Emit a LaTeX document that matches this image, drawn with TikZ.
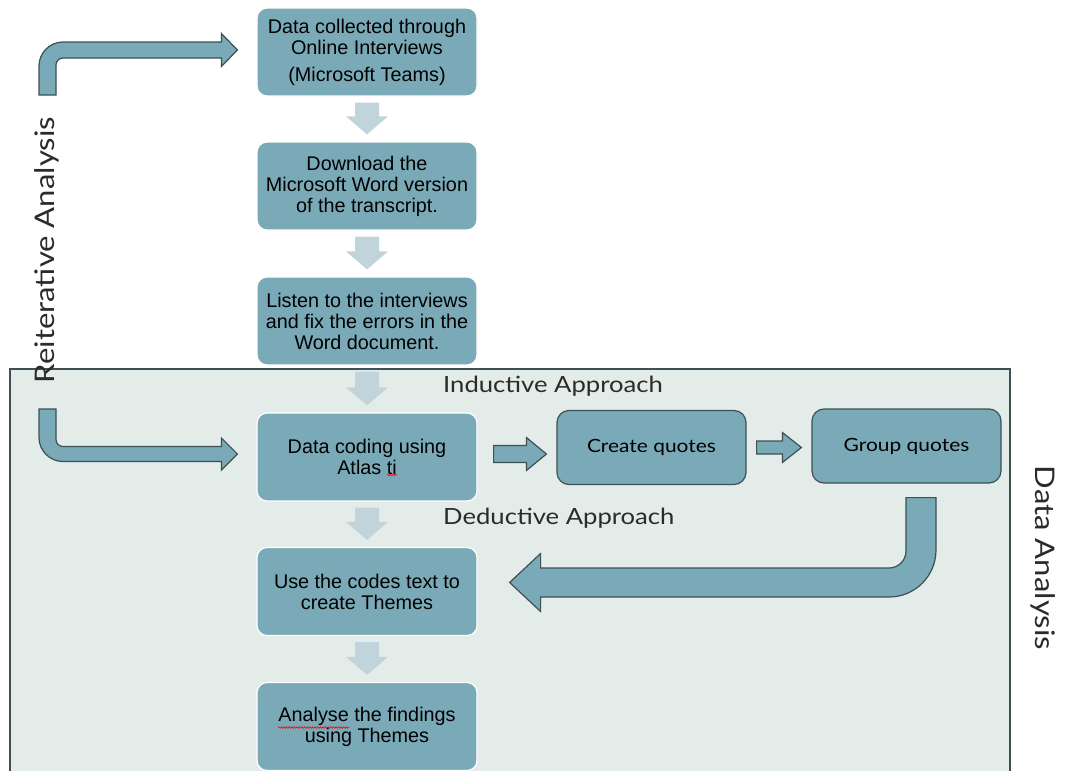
\documentclass[tikz,border=0pt]{standalone}
\usepackage{fontspec}
\setmainfont{Liberation Sans}
\newfontfamily\softsans{Lato}[FakeStretch=1.15]
\usetikzlibrary{calc,decorations.pathmorphing}

\definecolor{boxblue}{HTML}{7AAAB8}
\definecolor{flowgrey}{HTML}{C2D4DB}
\definecolor{panel}{HTML}{E3ECE9}
\definecolor{edge}{HTML}{3C5056}
\definecolor{labelgrey}{HTML}{2B2B2B}

% light block arrow between two stacked steps
\newcommand\downblock[2]{%
  \fill[flowarrow] ($(#1.south)+(-12,6)$) -- ($(#1.south)+(12,6)$)
    -- ($(#2.north)+(12,-25)$) -- ($(#2.north)+(21,-25)$) -- ($(#2.north)+(0,-7)$)
    -- ($(#2.north)+(-21,-25)$) -- ($(#2.north)+(-12,-25)$) -- cycle;}

\tikzset{
  stepbox/.style={rectangle, rounded corners=10pt, fill=boxblue, draw=white,
    line width=1.2pt, minimum width=220pt, minimum height=88pt, align=center,
    font=\fontsize{19.8}{21}\selectfont, inner sep=2pt},
  quotebox/.style={rectangle, rounded corners=12pt, fill=boxblue, draw=edge,
    line width=1.2pt, minimum width=189pt, minimum height=74pt,
    font=\softsans\fontsize{18.2}{22}\selectfont},
  flowarrow/.style={fill=flowgrey},
  fatarrow/.style={fill=boxblue, draw=edge, line width=1.2pt, line join=miter},
  approach/.style={font=\softsans\fontsize{22.3}{26}\selectfont, text=labelgrey, inner sep=0pt},
  sidelabel/.style={font=\softsans\fontsize{27}{30}\selectfont, text=labelgrey, inner sep=0pt},
  spellmark/.style={draw=red, line width=0.6pt, decorate,
    decoration={snake, amplitude=0.8pt, segment length=2.6pt}},
}

\begin{document}
\begin{tikzpicture}[x=1pt,y=-1pt]
\useasboundingbox (0,0) rectangle (1066,771);
\fill[white] (0,0) rectangle (1066,771);

% data analysis panel
\draw[fill=panel, draw=edge, line width=1.5pt] (10,369) rectangle (1010,790);

% process steps
\node[stepbox] (b1) at (367,52) {Data collected through\\Online Interviews\\[6pt](Microsoft Teams)};
\node[stepbox] (b2) at (367,186) {Download the\\Microsoft Word version\\of the transcript.};
\node[stepbox] (b3) at (367,321) {Listen to the interviews\\and fix the errors in the\\Word document.};
\node[stepbox] (b4) at (367,457) {Data coding using\\Atlas ti};
\node[stepbox] (b5) at (367,591.5) {Use the codes text to\\create Themes};
\node[stepbox] (b6) at (367,726.5) {Analyse the findings\\using Themes};

\node[quotebox] (cq) at (651.5,447.5) {Create quotes};
\node[quotebox] (gq) at (906.5,446) {Group quotes};

% spell-check squiggles under two words
\draw[spellmark] ($(b4.center)+(20,18)$) -- ($(b4.center)+(30,18)$);
\draw[spellmark] ($(b6.center)+(-89,1)$) -- ($(b6.center)+(-18,1)$);

% flow between steps
\downblock{b1}{b2}
\downblock{b2}{b3}
\downblock{b3}{b4}
\downblock{b4}{b5}
\downblock{b5}{b6}

% inductive branch
\draw[fatarrow] let \p1=($(b4.east)+(16,-3)$), \p2=($(cq.west)+(-10,0)$) in
  (\x1,\y1+8.5pt) -- (\x2-20pt,\y1+8.5pt) -- (\x2-20pt,\y1+16.5pt) -- (\x2,\y1)
  -- (\x2-20pt,\y1-16.5pt) -- (\x2-20pt,\y1-8.5pt) -- (\x1,\y1-8.5pt) -- cycle;
\draw[fatarrow] let \p1=($(cq.east)+(10,0)$), \p2=($(gq.west)+(-10,0)$) in
  (\x1,\y1+6.5pt) -- (\x2-19pt,\y1+6.5pt) -- (\x2-19pt,\y1+15pt) -- (\x2,\y1)
  -- (\x2-19pt,\y1-15pt) -- (\x2-19pt,\y1-6.5pt) -- (\x1,\y1-6.5pt) -- cycle;

% return to the themes step
\draw[fatarrow] let \p1=($(gq.south)+(14.5,14)$), \p2=($(b5.east)+(32,-9)$) in
  (\x1-15pt,\y1) -- (\x1+15pt,\y1) -- (\x1+15pt,\y2+32.5pt)
  arc[start angle=0,end angle=90,radius=47]
  -- (\x2+31pt,\y2-14.5pt) -- (\x2+31pt,\y2-29pt) -- (\x2,\y2)
  -- (\x2+31pt,\y2+29pt) -- (\x2+31pt,\y2+14.5pt) -- (\x1-32pt,\y2+14.5pt)
  arc[start angle=90,end angle=0,radius=17] -- cycle;

% reiterative loop
\coordinate (loopstart) at (47.5,95);
\coordinate (loopend) at (47.5,409);
\draw[fatarrow] let \p1=(loopstart), \p2=($(b1.west)+(-19,-2)$) in
  (\x1-8.5pt,\y1) -- (\x1-8.5pt,\y2-16pt) arc[start angle=180,end angle=270,radius=24]
  -- (\x2-16pt,\y2+8pt) -- (\x2-16pt,\y2+16.5pt) -- (\x2,\y2)
  -- (\x2-16pt,\y2-16.5pt) -- (\x2-16pt,\y2-8pt) -- (\x1+15.5pt,\y2-8pt)
  arc[start angle=270,end angle=180,radius=7] -- (\x1+8.5pt,\y1) -- cycle;
\draw[fatarrow] let \p1=(loopend), \p2=($(b4.west)+(-19,-3)$) in
  (\x1-8.5pt,\y1) -- (\x1-8.5pt,\y2+16.5pt) arc[start angle=180,end angle=90,radius=24]
  -- (\x2-16pt,\y2-7.5pt) -- (\x2-16pt,\y2-16pt) -- (\x2,\y2)
  -- (\x2-16pt,\y2+16pt) -- (\x2-16pt,\y2+7.5pt) -- (\x1+15.5pt,\y2+7.5pt)
  arc[start angle=90,end angle=180,radius=7] -- (\x1+8.5pt,\y1) -- cycle;

% labels
\node[approach, anchor=base west] (ind) at (443,392) {Inductive Approach};
\node[approach, anchor=base west] (ded) at (443,524) {Deductive Approach};
\node[sidelabel, rotate=90] (reit) at (47,250) {Reiterative Analysis};
\node[sidelabel, rotate=-90] (da) at (1043,558) {Data Analysis};
\end{tikzpicture}
\end{document}
